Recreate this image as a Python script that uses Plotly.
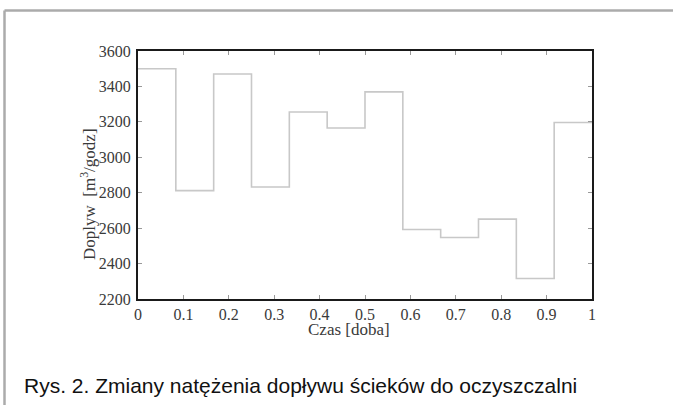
import plotly.graph_objects as go

# step edges (time, fraction of a day) and inflow values [m3/h]
time_edges = [0, 1/12, 2/12, 3/12, 4/12, 5/12, 6/12, 7/12, 8/12, 9/12, 10/12, 11/12, 1]
inflow = [3500, 2812, 3470, 2832, 3256, 3165, 3369, 2592, 2547, 2651, 2316, 3196]
x_ticks = [0, 0.1, 0.2, 0.3, 0.4, 0.5, 0.6, 0.7, 0.8, 0.9, 1]
x_tick_labels = ["0", "0.1", "0.2", "0.3", "0.4", "0.5", "0.6", "0.7", "0.8", "0.9", "1"]
y_ticks = [2200, 2400, 2600, 2800, 3000, 3200, 3400, 3600]
y_tick_labels = ["2200", "2400", "2600", "2800", "3000", "3200", "3400", "3600"]

x_title = "Czas [doba]"
y_title = "Doplyw  [m<sup>3</sup>/godz]"
caption = "Rys. 2. Zmiany natężenia dopływu ścieków do oczyszczalni"

y_vals = inflow + [inflow[-1]]

fig = go.Figure()
fig.add_trace(go.Scatter(
    x=time_edges, y=y_vals, mode="lines", line_shape="hv",
    line=dict(color="#c8c8c8", width=1.6), hoverinfo="skip", showlegend=False,
))

serif = "Liberation Serif"
axis_common = dict(
    showgrid=False, zeroline=False, showline=True, linecolor="#1a1a1a", linewidth=2,
    mirror="ticks", ticks="inside", ticklen=4, tickwidth=1, tickcolor="#999999",
)
tick_font = dict(family=serif, size=16, color="#3a3a3a")
fig.update_xaxes(range=[0, 1], tickvals=x_ticks, ticktext=x_tick_labels,
                 tickfont=tick_font, ticklabelstandoff=0, **axis_common)
fig.update_yaxes(range=[2200, 3600], tickvals=y_ticks, ticktext=y_tick_labels,
                 tickfont=tick_font, ticklabelstandoff=2, **axis_common)

W, H = 673, 405
L, R, T, B = 138, 81, 51, 106
pw, ph = W - L - R, H - T - B

def px(xp):
    return (xp - L) / pw

def py(yp):
    return (H - B - yp) / ph

fig.add_annotation(text=x_title, x=px(349), y=py(329), xref="paper", yref="paper",
                   showarrow=False, xanchor="center", yanchor="middle",
                   font=dict(family=serif, size=17, color="#3a3a3a"))
fig.add_annotation(text=y_title, x=px(88), y=py(194), xref="paper", yref="paper",
                   showarrow=False, xanchor="center", yanchor="middle", textangle=-90,
                   font=dict(family=serif, size=17, color="#3a3a3a"))
fig.add_annotation(text=caption, x=px(22), y=py(385), xref="paper", yref="paper",
                   showarrow=False, xanchor="left", yanchor="middle",
                   font=dict(family="Liberation Sans", size=21, color="#111111"))

# page frame lines (top and left)
fig.add_shape(type="line", xref="paper", yref="paper", x0=px(4.5), x1=px(680),
              y0=py(10.5), y1=py(10.5), line=dict(color="#ababab", width=2.5))
fig.add_shape(type="line", xref="paper", yref="paper", x0=px(4.5), x1=px(4.5),
              y0=py(10.5), y1=py(420), line=dict(color="#ababab", width=2.5))

fig.update_layout(
    width=W, height=H, margin=dict(l=L, r=R, t=T, b=B),
    paper_bgcolor="white", plot_bgcolor="white",
)

fig.write_html("out.html", config={"displayModeBar": False},
               post_script="document.body.style.margin='0';")
